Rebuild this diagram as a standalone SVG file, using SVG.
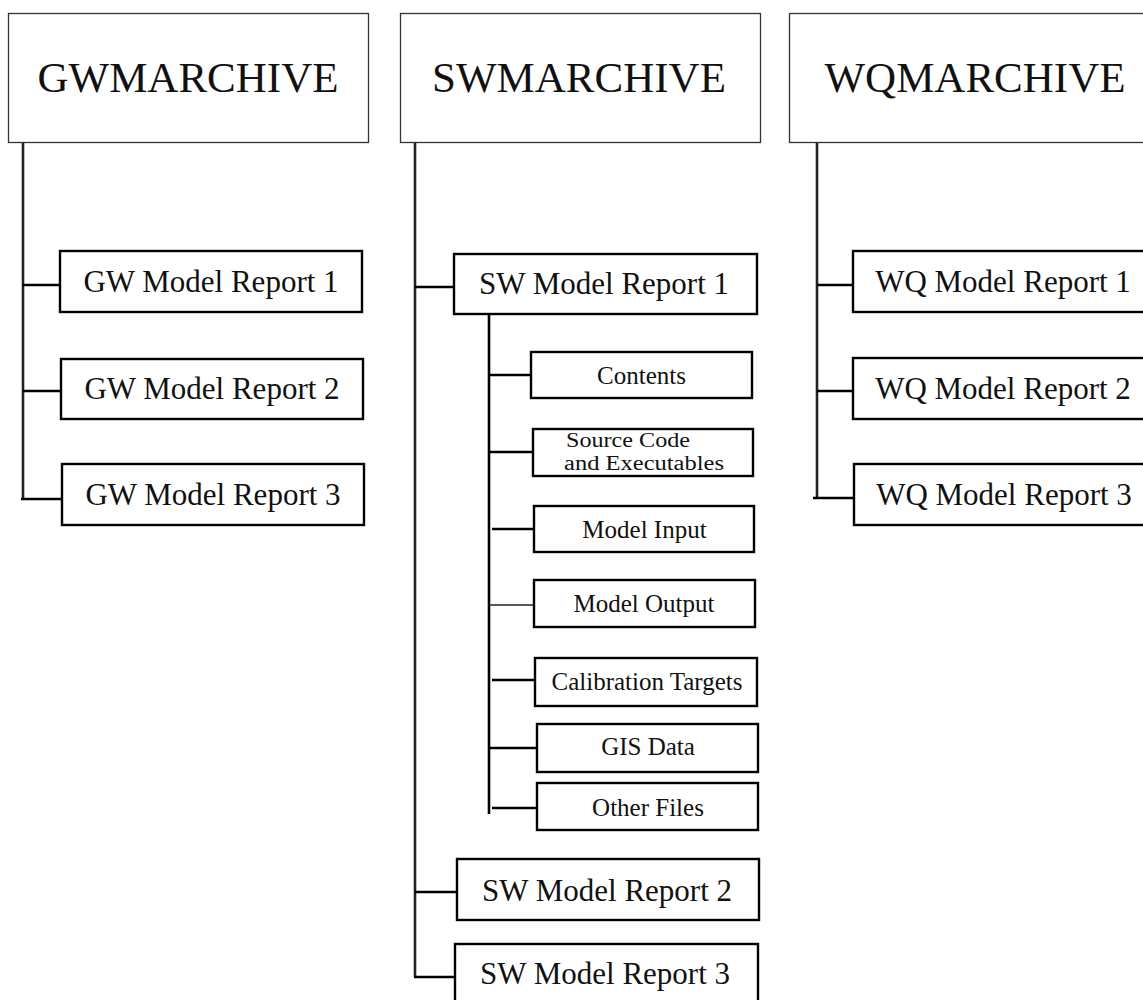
<svg xmlns="http://www.w3.org/2000/svg" width="1143" height="1000" viewBox="0 0 1143 1000">
<style>
.hdr{fill:#fff;stroke:#333;stroke-width:1.3}
.box{fill:#fff;stroke:#000;stroke-width:2.4}
.ht{font-family:"Liberation Serif","Times New Roman",serif;font-size:43px;fill:#111;text-anchor:middle}
.rt{font-family:"Liberation Serif","Times New Roman",serif;font-size:31px;fill:#111;text-anchor:middle}
.st{font-family:"Liberation Serif","Times New Roman",serif;font-size:25px;fill:#111;text-anchor:middle}
.sc{font-family:"Liberation Serif","Times New Roman",serif;font-size:20px;fill:#111}
.ln{stroke:#000;stroke-width:2.6;fill:none}
.tr{stroke:#222;stroke-width:2.6;fill:none}
.thin{stroke:#222;stroke-width:1.4;fill:none}
</style>
<rect width="1143" height="1000" fill="#fff"/>
<g id="connectors">
<path class="tr" d="M23 143V499"/>
<path class="ln" d="M23 285H60M23 391H61M21 499H62"/>
<path class="tr" d="M415 143V977"/>
<path class="ln" d="M415 287H454M415 892H457M414 977H455"/>
<path class="ln" d="M489 314V814"/>
<path class="ln" d="M489 375H535M489 452H533M492 529H534M492 680H535M489 748H537M492 808H537"/>
<path class="thin" d="M489 605H534"/>
<path class="tr" d="M817 143V498"/>
<path class="ln" d="M817 285H853M817 391H853M813 498H854"/>
</g>
<g id="gwarchive"><rect class="hdr" x="8.5" y="13.5" width="360" height="129"/><text class="ht" x="188" y="92">GWMARCHIVE</text></g>
<g id="gw1"><rect class="box" x="60" y="251" width="302" height="61"/><text class="rt" x="211" y="292">GW Model Report 1</text></g>
<g id="gw2"><rect class="box" x="61" y="359" width="302" height="60"/><text class="rt" x="212" y="399">GW Model Report 2</text></g>
<g id="gw3"><rect class="box" x="62" y="464" width="302" height="61"/><text class="rt" x="213" y="505">GW Model Report 3</text></g>
<g id="swarchive"><rect class="hdr" x="400.5" y="13.5" width="360" height="129"/><text class="ht" x="579" y="92">SWMARCHIVE</text></g>
<g id="sw1"><rect class="box" x="454" y="254" width="303" height="60"/><text class="rt" x="604" y="294">SW Model Report 1</text></g>
<g id="contents"><rect class="box" x="531" y="352" width="221" height="46"/><text class="st" x="641.5" y="384">Contents</text></g>
<g id="source"><rect class="box" x="533" y="429" width="220" height="47"/><text class="sc" x="566" y="447" textLength="124" lengthAdjust="spacingAndGlyphs">Source Code</text><text class="sc" x="564" y="470" textLength="160" lengthAdjust="spacingAndGlyphs">and Executables</text></g>
<g id="input"><rect class="box" x="534" y="506" width="220" height="46"/><text class="st" x="644.5" y="538">Model Input</text></g>
<g id="output"><rect class="box" x="534" y="580" width="221" height="47"/><text class="st" x="644" y="612">Model Output</text></g>
<g id="calib"><rect class="box" x="535" y="658" width="222" height="48"/><text class="st" x="647" y="690">Calibration Targets</text></g>
<g id="gis"><rect class="box" x="537" y="724" width="221" height="48"/><text class="st" x="648" y="755">GIS Data</text></g>
<g id="other"><rect class="box" x="537" y="783" width="221" height="47"/><text class="st" x="648" y="816">Other Files</text></g>
<g id="sw2"><rect class="box" x="457" y="859" width="302" height="61"/><text class="rt" x="607" y="901">SW Model Report 2</text></g>
<g id="sw3"><rect class="box" x="455" y="944" width="303" height="70"/><text class="rt" x="605" y="984">SW Model Report 3</text></g>
<g id="wqarchive"><rect class="hdr" x="789.5" y="13.5" width="370" height="129"/><text class="ht" x="975" y="92">WQMARCHIVE</text></g>
<g id="wq1"><rect class="box" x="853" y="251" width="300" height="61"/><text class="rt" x="1003" y="292">WQ Model Report 1</text></g>
<g id="wq2"><rect class="box" x="853" y="358" width="300" height="61"/><text class="rt" x="1003" y="399">WQ Model Report 2</text></g>
<g id="wq3"><rect class="box" x="854" y="464" width="300" height="61"/><text class="rt" x="1004" y="505">WQ Model Report 3</text></g>
</svg>
